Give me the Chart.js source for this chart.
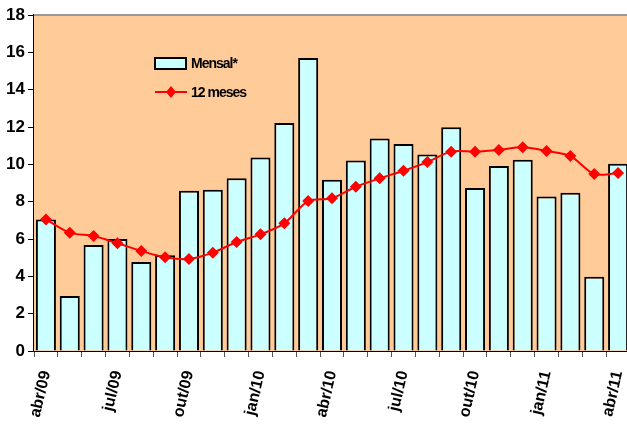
<!DOCTYPE html>
<html>
<head>
<meta charset="utf-8">
<script src="https://cdn.jsdelivr.net/npm/chart.js@4.4.1/dist/chart.umd.min.js"></script>
<style>
  html, body { margin: 0; padding: 0; background: #fff; overflow: hidden; }
  canvas { display: block; }
</style>
</head>
<body>
<canvas id="chart" width="631" height="427"></canvas>
<script>
const months = [
  "abr/09", "mai/09", "jun/09", "jul/09", "ago/09", "set/09", "out/09", "nov/09", "dez/09",
  "jan/10", "fev/10", "mar/10", "abr/10", "mai/10", "jun/10", "jul/10", "ago/10", "set/10",
  "out/10", "nov/10", "dez/10", "jan/11", "fev/11", "mar/11", "abr/11"
]
const mensal = [
  7.05, 2.95, 5.68, 6.0, 4.77, 5.13, 8.59, 8.64, 9.25,
  10.37, 12.21, 15.69, 9.18, 10.21, 11.39, 11.09, 10.53, 11.98,
  8.73, 9.91, 10.25, 8.28, 8.48, 3.98, 10.03
]
const dozeMeses = [
  7.05, 6.34, 6.16, 5.77, 5.36, 5.02, 4.93, 5.27, 5.84,
  6.25, 6.84, 8.03, 8.18, 8.8, 9.25, 9.66, 10.12, 10.68,
  10.68, 10.77, 10.91, 10.71, 10.44, 9.48, 9.53
]
const yTicks = [0, 2, 4, 6, 8, 10, 12, 14, 16, 18]

const FONT = "'Liberation Sans', Arial, sans-serif"

// peach plot background and grey top border
const plotBackground = {
  id: "plotBackground",
  beforeDatasetsDraw(chart) {
    const { ctx, chartArea: a } = chart
    ctx.save()
    ctx.fillStyle = "#FFCC99"
    ctx.fillRect(a.left, a.top, a.right - a.left, a.bottom - a.top)
    ctx.strokeStyle = "#999999"
    ctx.lineWidth = 2
    ctx.beginPath()
    ctx.moveTo(a.left, a.top)
    ctx.lineTo(a.right, a.top)
    ctx.stroke()
    ctx.restore()
  }
}

// legend drawn inside the plot area
const innerLegend = {
  id: "innerLegend",
  afterDatasetsDraw(chart) {
    const { ctx, chartArea: a } = chart
    const x = a.left + 121
    const y = a.top + 43
    ctx.save()
    ctx.fillStyle = "#CCFFFF"
    ctx.strokeStyle = "#000"
    ctx.lineWidth = 2
    ctx.fillRect(x, y, 31, 11)
    ctx.strokeRect(x, y, 31, 11)

    ctx.strokeStyle = "#FF0000"
    ctx.beginPath()
    ctx.moveTo(x, y + 34)
    ctx.lineTo(x + 32, y + 34)
    ctx.stroke()
    ctx.fillStyle = "#FF0000"
    ctx.beginPath()
    ctx.moveTo(x + 16, y + 28)
    ctx.lineTo(x + 21, y + 34)
    ctx.lineTo(x + 16, y + 40)
    ctx.lineTo(x + 11, y + 34)
    ctx.closePath()
    ctx.fill()

    ctx.fillStyle = "#000"
    ctx.font = "bold 14px " + FONT
    ctx.letterSpacing = "-1px"
    ctx.textBaseline = "middle"
    ctx.fillText("Mensal*", x + 36, y + 6)
    ctx.fillText("12 meses", x + 36, y + 35)
    ctx.restore()
  }
}

const ctx = document.getElementById("chart").getContext("2d")

new Chart(ctx, {
  type: "bar",
  data: {
    labels: months,
    datasets: [
      {
        type: "line",
        label: "12 meses",
        data: dozeMeses,
        borderColor: "#FF0000",
        backgroundColor: "#FF0000",
        borderWidth: 2,
        tension: 0.3,
        pointStyle: "rectRot",
        pointRadius: 6,
        pointBorderWidth: 0,
        order: 1
      },
      {
        label: "Mensal*",
        data: mensal,
        backgroundColor: "#CCFFFF",
        borderColor: "#000000",
        borderWidth: 2,
        barPercentage: 0.84,
        categoryPercentage: 1,
        order: 2
      }
    ]
  },
  options: {
    responsive: false,
    animation: false,
    layout: { autoPadding: false, padding: { top: 15, right: 1, left: 0, bottom: 0 } },
    plugins: {
      legend: { display: false },
      tooltip: { enabled: false }
    },
    scales: {
      x: {
        offset: true,
        grid: {
          offset: true,
          drawOnChartArea: false,
          drawTicks: true,
          tickLength: 6,
          color: "#555"
        },
        border: { color: "#000", width: 2 },
        ticks: {
          autoSkip: false,
          minRotation: 77,
          maxRotation: 77,
          padding: 12,
          color: "#000",
          font: { family: FONT, size: 16, weight: "bold" },
          callback: (v, i) => (i % 3 === 0 ? months[i] : "")
        },
        afterFit(scale) {
          scale.height = 76
          scale.paddingLeft = 0
          scale.paddingRight = 0
        }
      },
      y: {
        min: 0,
        max: 18,
        afterBuildTicks(scale) { scale.ticks = yTicks.map(v => ({ value: v })) },
        grid: {
          drawOnChartArea: false,
          drawTicks: true,
          tickLength: 6,
          color: "#000"
        },
        border: { color: "#000", width: 2 },
        ticks: {
          padding: 3,
          color: "#000",
          font: { family: FONT, size: 17, weight: "bold" }
        },
        afterFit(scale) { scale.width = 34 }
      }
    }
  },
  plugins: [plotBackground, innerLegend]
})
</script>
</body>
</html>
